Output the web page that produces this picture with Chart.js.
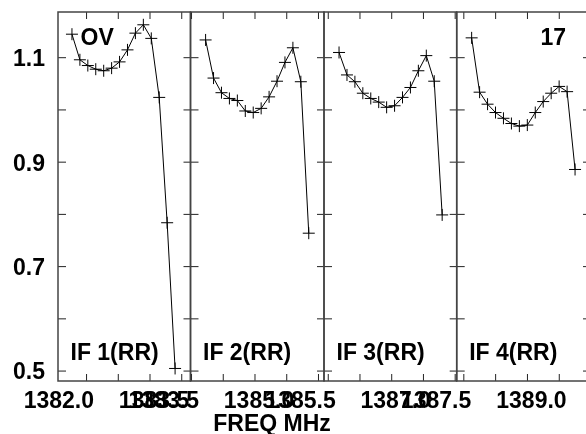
<!DOCTYPE html>
<html><head><meta charset="utf-8">
<script src="https://cdn.jsdelivr.net/npm/chart.js@4"></script>
<style>
html,body{margin:0;padding:0;background:#fff;overflow:hidden}
#wrap{position:relative;width:586px;height:434px;overflow:hidden;background:#fff}
#wrap canvas{position:absolute;left:0;top:0}
</style></head><body>
<div id="wrap">
<canvas id="c1" width="600" height="434"></canvas>
<canvas id="c2" width="600" height="434"></canvas>
<canvas id="c3" width="600" height="434"></canvas>
<canvas id="c4" width="600" height="434"></canvas>
</div>
<script>
// ---- data ----
const panelNames = ["IF 1(RR)", "IF 2(RR)", "IF 3(RR)", "IF 4(RR)"];
const cornerLeft = "OV";
const cornerRight = "17";
const axisTitle = "FREQ MHz";

const freq1 = [1382.270,1382.395,1382.520,1382.645,1382.770,1382.895,1383.020,1383.145,1383.270,1383.395,1383.520,1383.645,1383.770,1383.895];
const amp1  = [1.145,1.096,1.085,1.078,1.075,1.080,1.092,1.115,1.147,1.163,1.137,1.024,0.784,0.505];
const freq2 = [1384.222,1384.347,1384.472,1384.597,1384.722,1384.847,1384.972,1385.097,1385.222,1385.347,1385.472,1385.597,1385.722,1385.847];
const amp2  = [1.134,1.061,1.033,1.022,1.018,0.998,0.995,1.003,1.025,1.055,1.091,1.119,1.054,0.764];
const freq3 = [1386.170,1386.295,1386.420,1386.545,1386.670,1386.795,1386.920,1387.045,1387.170,1387.295,1387.420,1387.545,1387.670,1387.795];
const amp3  = [1.110,1.067,1.054,1.032,1.022,1.015,1.005,1.008,1.024,1.043,1.075,1.104,1.055,0.799];
const freq4 = [1388.123,1388.248,1388.373,1388.498,1388.623,1388.748,1388.873,1388.998,1389.123,1389.248,1389.373,1389.498,1389.623,1389.748];
const amp4  = [1.138,1.034,1.011,0.995,0.984,0.974,0.969,0.971,0.995,1.016,1.032,1.045,1.035,0.886];

const xRange1 = [1382.050, 1384.138];
const xRange2 = [1383.984, 1386.087];
const xRange3 = [1385.933, 1388.024];
const xRange4 = [1387.888, 1389.983];

const xTicks1 = [1382.5, 1383.0, 1383.5, 1384.0];
const xTicks2 = [1384.0, 1384.5, 1385.0, 1385.5, 1386.0];
const xTicks3 = [1386.0, 1386.5, 1387.0, 1387.5, 1388.0];
const xTicks4 = [1388.0, 1388.5, 1389.0, 1389.5];

const xLabels1 = [1382.0, 1383.5];
const xLabels2 = [1383.5, 1385.0];
const xLabels3 = [1385.5, 1387.0];
const xLabels4 = [1387.5, 1389.0];

const yTicks = [0.5, 0.6, 0.7, 0.8, 0.9, 1.0, 1.1];
const yTickLabels = [0.5, 0.7, 0.9, 1.1];
const yRange = [0.481, 1.1875];

// ---- layout / style ----
const edges = [58, 190.5, 324, 456.7, 590];
const TOP = 12, BOTTOM = 381, CW = 600, CH = 434;
const FONT = 'bold 23px "Liberation Sans", Arial, sans-serif';

const freqs = [freq1, freq2, freq3, freq4];
const amps = [amp1, amp2, amp3, amp4];
const xRanges = [xRange1, xRange2, xRange3, xRange4];
const xTicks = [xTicks1, xTicks2, xTicks3, xTicks4];
const xLabels = [xLabels1, xLabels2, xLabels3, xLabels4];

function seg(ctx, x1, y1, x2, y2) { ctx.beginPath(); ctx.moveTo(x1, y1); ctx.lineTo(x2, y2); ctx.stroke(); }

function framePlugin(i) {
  return {
    id: 'frame' + i,
    afterDraw(chart) {
      const ctx = chart.ctx, a = chart.chartArea, xs = chart.scales.x, ys = chart.scales.y;
      ctx.save();
      ctx.strokeStyle = '#222'; ctx.lineWidth = 1;
      for (const v of xTicks[i]) {
        const px = xs.getPixelForValue(v);
        seg(ctx, px, a.top, px, a.top + 7);
        seg(ctx, px, a.bottom, px, a.bottom - 7);
      }
      for (const v of yTicks) {
        const py = ys.getPixelForValue(v);
        seg(ctx, a.left, py, a.left + 8, py);
        seg(ctx, a.right, py, a.right - 7, py);
      }
      ctx.strokeStyle = '#444'; ctx.lineWidth = 1.5;
      ctx.strokeRect(a.left, a.top, a.right - a.left, a.bottom - a.top);
      ctx.fillStyle = '#000'; ctx.font = FONT; ctx.textBaseline = 'alphabetic';
      ctx.textAlign = 'center';
      for (const v of xLabels[i]) ctx.fillText(v.toFixed(1), xs.getPixelForValue(v) + 4, 408);
      ctx.textAlign = 'left';
      ctx.fillText(panelNames[i], a.left + 12.5, 360);
      if (i === 0) {
        ctx.fillText(cornerLeft, 80.5, 45);
        ctx.textAlign = 'center';
        ctx.fillText(axisTitle, 272, 431);
      }
      if (i === 3) {
        ctx.textAlign = 'right';
        ctx.fillText(cornerRight, 566, 45);
      }
      ctx.restore();
    }
  };
}

function makePanel(i) {
  const first = i === 0;
  const yScale = {
    type: 'linear', display: first, min: yRange[0], max: yRange[1],
    grid: { display: false, drawTicks: false }, border: { display: false },
    afterBuildTicks: (s) => { s.ticks = yTickLabels.map(v => ({ value: v })); },
    ticks: {
      font: { family: 'Liberation Sans', weight: 'bold', size: 23 },
      color: '#000', padding: 13, labelOffset: 2,
      callback: (v) => Number(v).toFixed(1)
    }
  };
  if (first) yScale.afterFit = (s) => { s.width = edges[0]; s.paddingTop = 0; s.paddingBottom = 0; };
  return new Chart(document.getElementById('c' + (i + 1)), {
    type: 'line',
    data: {
      datasets: [{
        data: freqs[i].map((f, j) => ({ x: f, y: amps[i][j] })),
        borderColor: '#000', borderWidth: 1, tension: 0, fill: false,
        pointStyle: 'cross', pointRadius: 6, pointBorderColor: '#000',
        pointBorderWidth: 1, pointBackgroundColor: '#000'
      }]
    },
    options: {
      responsive: false, animation: false, events: [],
      layout: { padding: { left: first ? 0 : edges[i], right: CW - edges[i + 1], top: TOP, bottom: CH - BOTTOM } },
      plugins: { legend: { display: false }, tooltip: { enabled: false }, title: { display: false } },
      scales: {
        x: { type: 'linear', display: false, min: xRanges[i][0], max: xRanges[i][1] },
        y: yScale
      }
    },
    plugins: [framePlugin(i)]
  });
}
for (let i = 0; i < 4; i++) makePanel(i);
</script>
</body></html>
